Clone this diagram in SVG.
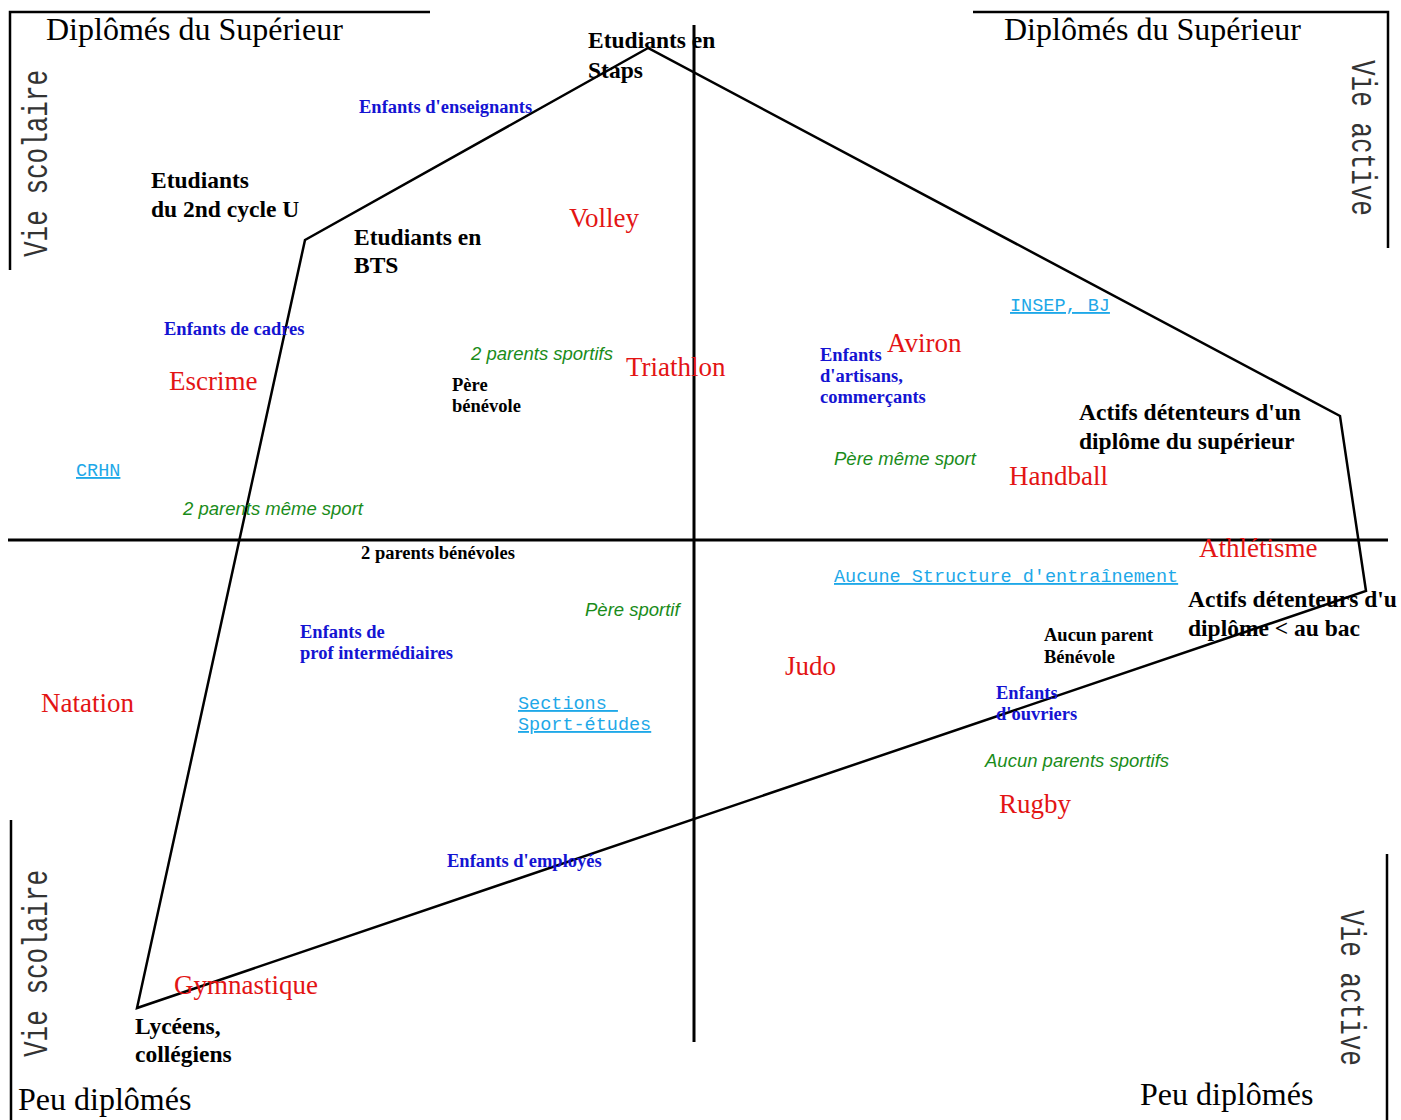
<svg xmlns="http://www.w3.org/2000/svg" width="1401" height="1120" viewBox="0 0 1401 1120">
<style>
.ln{stroke:#000;stroke-width:2.5;fill:none}
.ax{stroke:#000;stroke-width:3;fill:none}
.corner{font-family:"Liberation Serif",serif;font-size:32px;fill:#000}
.side{font-family:"Liberation Mono",monospace;font-size:26px;fill:#333}
.bk{font-family:"Liberation Serif",serif;font-weight:bold;font-size:23.5px;fill:#000}
.bks{font-family:"Liberation Serif",serif;font-weight:bold;font-size:18.5px;fill:#000}
.bl{font-family:"Liberation Serif",serif;font-weight:bold;font-size:18.5px;fill:#1414d2}
.sp{font-family:"Liberation Serif",serif;font-size:27px;fill:#e31414}
.gr{font-family:"Liberation Sans",sans-serif;font-style:italic;font-size:18.5px;fill:#1a8c1a}
.cy{font-family:"Liberation Mono",monospace;font-size:18.5px;fill:#1ea8e8;text-decoration:underline;white-space:pre}
</style>
<rect width="1401" height="1120" fill="#fff"/>
<g id="connectors">
<polyline class="ln" points="430,12 10,12 10,270"/>
<polyline class="ln" points="973,12 1388,12 1388,248"/>
<line class="ln" x1="11" y1="820" x2="11" y2="1120"/>
<line class="ln" x1="1387" y1="854" x2="1387" y2="1120"/>
<line class="ax" x1="8" y1="540" x2="1388" y2="540"/>
<line class="ax" x1="694" y1="25" x2="694" y2="1042"/>
<polygon class="ln" points="648,48 305,240 137,1008 1366,591 1340,416"/>
</g>
<g id="corner-tl"><text class="corner" x="46" y="40">Diplômés du Supérieur</text></g>
<g id="corner-tr"><text class="corner" x="1004" y="40">Diplômés du Supérieur</text></g>
<g id="corner-bl"><text class="corner" x="18" y="1110">Peu diplômés</text></g>
<g id="corner-br"><text class="corner" x="1140" y="1105">Peu diplômés</text></g>
<g id="side-tl"><text class="side" transform="translate(47,257) rotate(-90) scale(1,1.35)">Vie scolaire</text></g>
<g id="side-bl"><text class="side" transform="translate(47,1057) rotate(-90) scale(1,1.35)">Vie scolaire</text></g>
<g id="side-tr"><text class="side" transform="translate(1352,60) rotate(90) scale(1,1.35)">Vie active</text></g>
<g id="side-br"><text class="side" transform="translate(1341,910) rotate(90) scale(1,1.35)">Vie active</text></g>
<g id="staps"><text class="bk" x="588" y="48">Etudiants en</text><text class="bk" x="588" y="78">Staps</text></g>
<g id="cycle2"><text class="bk" x="151" y="188">Etudiants</text><text class="bk" x="151" y="217">du 2nd cycle U</text></g>
<g id="bts"><text class="bk" x="354" y="245">Etudiants en</text><text class="bk" x="354" y="273">BTS</text></g>
<g id="actifs-sup"><text class="bk" x="1079" y="420">Actifs détenteurs d'un</text><text class="bk" x="1079" y="449">diplôme du supérieur</text></g>
<g id="actifs-bac"><text class="bk" x="1188" y="607">Actifs détenteurs d'u</text><text class="bk" x="1188" y="636">diplôme &lt; au bac</text></g>
<g id="lyceens"><text class="bk" x="135" y="1034">Lycéens,</text><text class="bk" x="135" y="1062">collégiens</text></g>
<g id="pere-benevole"><text class="bks" x="452" y="391">Père</text><text class="bks" x="452" y="412">bénévole</text></g>
<g id="parents-benevoles"><text class="bks" x="361" y="559">2 parents bénévoles</text></g>
<g id="aucun-benevole"><text class="bks" x="1044" y="641">Aucun parent</text><text class="bks" x="1044" y="663">Bénévole</text></g>
<g id="enf-enseignants"><text class="bl" x="359" y="113">Enfants d'enseignants</text></g>
<g id="enf-cadres"><text class="bl" x="164" y="335">Enfants de cadres</text></g>
<g id="enf-artisans"><text class="bl" x="820" y="361">Enfants</text><text class="bl" x="820" y="382">d'artisans,</text><text class="bl" x="820" y="403">commerçants</text></g>
<g id="enf-prof"><text class="bl" x="300" y="638">Enfants de</text><text class="bl" x="300" y="659">prof intermédiaires</text></g>
<g id="enf-ouvriers"><text class="bl" x="996" y="699">Enfants</text><text class="bl" x="996" y="720">d'ouvriers</text></g>
<g id="enf-employes"><text class="bl" x="447" y="867">Enfants d'employés</text></g>
<g id="volley"><text class="sp" x="569" y="227">Volley</text></g>
<g id="escrime"><text class="sp" x="169" y="390">Escrime</text></g>
<g id="triathlon"><text class="sp" x="626" y="376">Triathlon</text></g>
<g id="aviron"><text class="sp" x="887" y="352">Aviron</text></g>
<g id="handball"><text class="sp" x="1009" y="485">Handball</text></g>
<g id="athletisme"><text class="sp" x="1199" y="557">Athlétisme</text></g>
<g id="natation"><text class="sp" x="41" y="712">Natation</text></g>
<g id="judo"><text class="sp" x="785" y="675">Judo</text></g>
<g id="rugby"><text class="sp" x="999" y="813">Rugby</text></g>
<g id="gymnastique"><text class="sp" x="174" y="994">Gymnastique</text></g>
<g id="parents-sportifs"><text class="gr" x="471" y="360">2 parents sportifs</text></g>
<g id="parents-meme-sport"><text class="gr" x="183" y="515">2 parents même sport</text></g>
<g id="pere-meme-sport"><text class="gr" x="834" y="465">Père même sport</text></g>
<g id="pere-sportif"><text class="gr" x="585" y="616">Père sportif</text></g>
<g id="aucun-sportifs"><text class="gr" x="985" y="767">Aucun parents sportifs</text></g>
<g id="insep"><text class="cy" x="1010" y="311">INSEP, BJ</text></g>
<g id="crhn"><text class="cy" x="76" y="476">CRHN</text></g>
<g id="aucune-structure"><text class="cy" x="834" y="582">Aucune Structure d'entraînement</text></g>
<g id="sections"><text class="cy" x="518" y="709">Sections </text><text class="cy" x="518" y="730">Sport-études</text></g>
</svg>
